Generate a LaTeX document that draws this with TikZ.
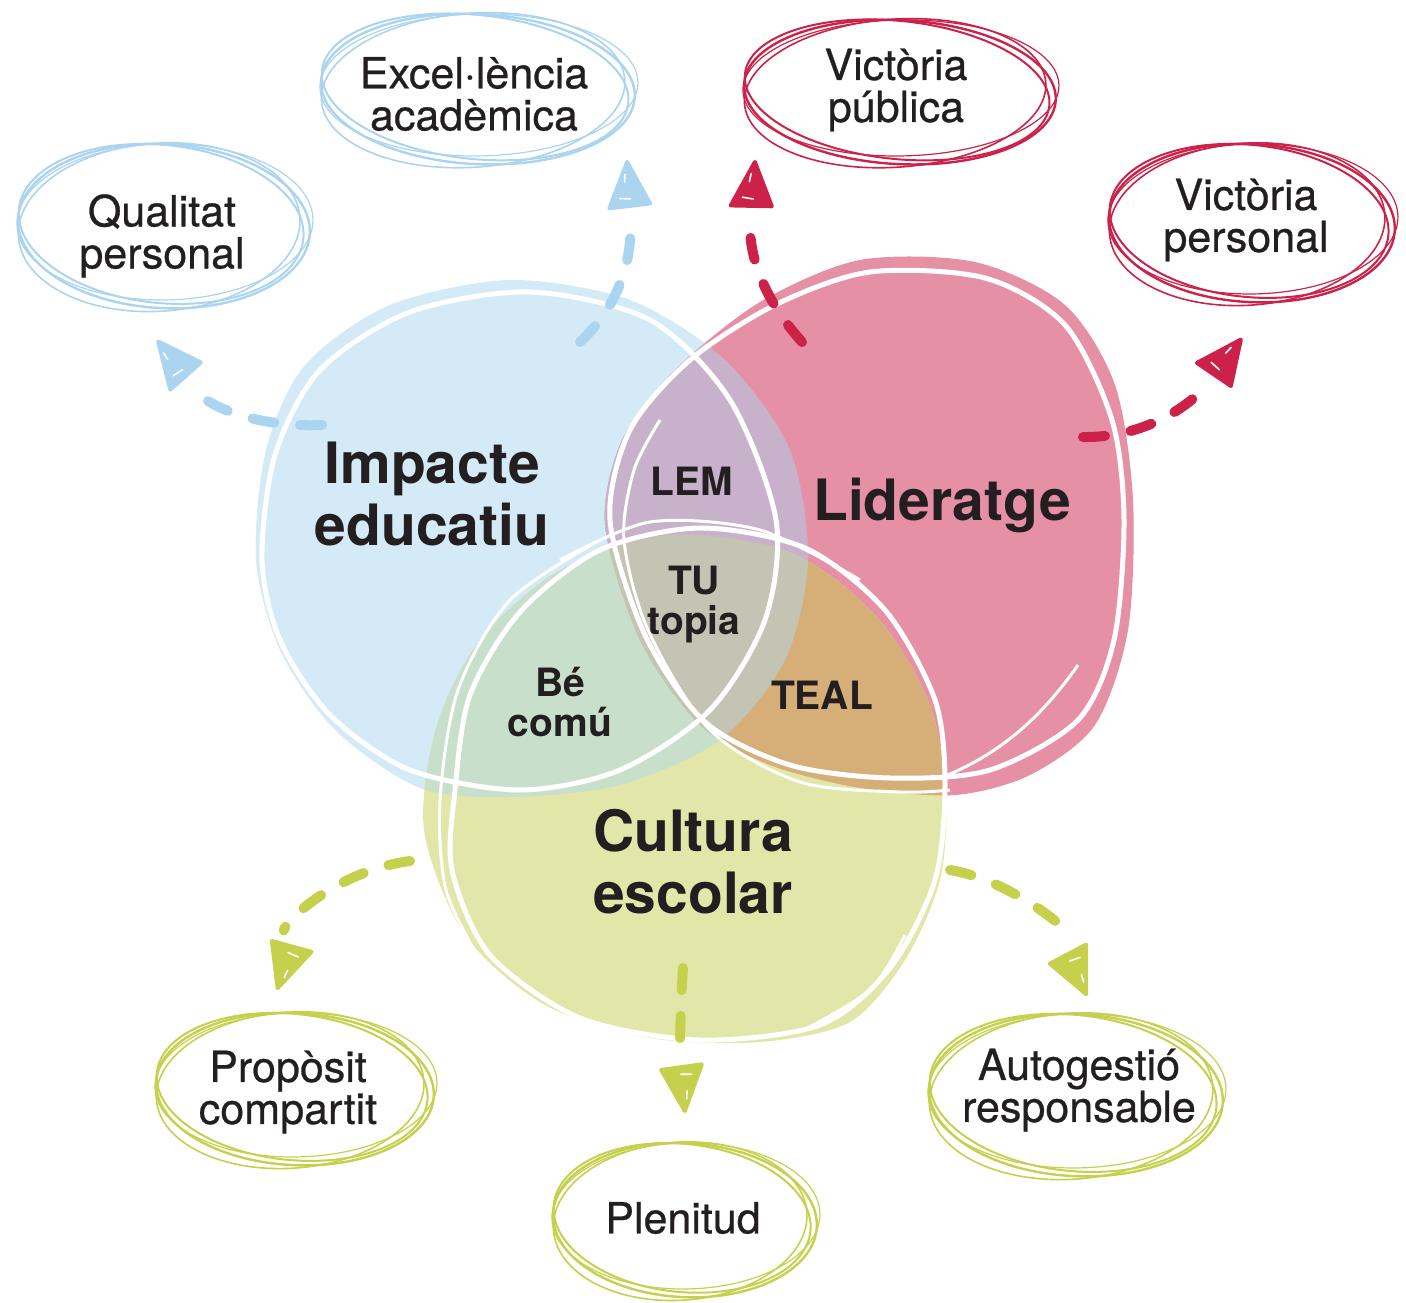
\documentclass[tikz,border=0pt]{standalone}
\usepackage{fontspec}
\setmainfont{TeX Gyre Heros}
\newfontfamily\leaffont[FakeBold=0.6]{TeX Gyre Heros}
\definecolor{bluefill}{HTML}{D5EAF7}
\definecolor{pinkfill}{HTML}{E690A5}
\definecolor{greenfill}{HTML}{E2E7A9}
\definecolor{lemfill}{HTML}{C8B2CB}
\definecolor{becomufill}{HTML}{C8DFCB}
\definecolor{tealfill}{HTML}{D6AE78}
\definecolor{tufill}{HTML}{C3C4B4}
\definecolor{bluestroke}{HTML}{AAD4EF}
\definecolor{redstroke}{HTML}{CC2249}
\definecolor{greenstroke}{HTML}{C5D14D}
\definecolor{textcol}{HTML}{231F20}
\newcommand{\scrib}[5]{%
  \begin{scope}[shift={(#1,#2)}]
    \draw[#5, line width=2.4pt, rotate=-3] (2,1) ellipse [x radius=#3, y radius=#4];
    \draw[#5, line width=1.6pt, rotate=4] (-3,2) ellipse [x radius=#3-5, y radius=#4+2];
    \draw[#5, line width=1.2pt, rotate=1] (3,-3) ellipse [x radius=#3+2, y radius=#4-4];
    \draw[#5, line width=2pt, rotate=-6] (-1,-1) ellipse [x radius=#3-3, y radius=#4-3];
  \end{scope}}
\newcommand{\tiphead}[3]{%
  \begin{scope}[shift={(#1)}, rotate=#2]
    \filldraw[#3, line width=4pt, line join=round] (-2,0) -- (-47,-21) -- (-45,20) -- cycle;
    \draw[white, line width=1.6pt, line cap=round] (-14,-3) -- (-22,-4);
    \draw[white, line width=1.6pt, line cap=round] (-38,-10) -- (-39,1);
  \end{scope}}
\def\bluepath{plot[smooth cycle] coordinates {(256,560) (266,450) (305,365) (390,305) (510,280) (630,300) (725,360) (790,450) (808,560) (785,660) (720,740) (620,785) (510,797) (420,788) (335,730) (280,650)}}
\def\pinkpath{plot[smooth cycle] coordinates {(605,525) (622,440) (675,370) (760,302) (860,260) (975,262) (1065,305) (1115,385) (1133,500) (1128,630) (1095,725) (1030,775) (955,795) (860,788) (770,765) (700,725) (640,640)}}
\def\greenpath{plot[smooth cycle] coordinates {(424,830) (437,725) (480,640) (560,570) (670,535) (790,552) (875,615) (928,700) (946,790) (940,880) (905,960) (850,1022) (760,1042) (650,1038) (545,1005) (465,935)}}
\begin{document}
\begin{tikzpicture}[x=1pt,y=-1pt,
  biglabel/.style={font=\fontsize{57}{62}\selectfont\bfseries, text=textcol, align=center, inner sep=0pt},
  midlabel/.style={font=\fontsize{39}{40}\selectfont\bfseries, text=textcol, align=center, inner sep=0pt},
  leaf/.style={font=\leaffont\fontsize{43}{42}\selectfont, text=textcol, align=center, inner sep=0pt},
  flow/.style={line width=10pt, line cap=round, dash pattern=on 22pt off 26pt, shorten >=60pt},
  outline/.style={draw=white, line width=5pt},
  outlinethin/.style={draw=white, line width=3pt}]
\useasboundingbox (0,0) rectangle (1406,1303);

% blob fills
\fill[bluefill] \bluepath;
\fill[pinkfill] \pinkpath;
\fill[greenfill] \greenpath;
\begin{scope}\clip \bluepath; \fill[lemfill] \pinkpath; \end{scope}
\begin{scope}\clip \bluepath; \fill[becomufill] \greenpath; \end{scope}
\begin{scope}\clip \pinkpath; \fill[tealfill] \greenpath; \end{scope}
\begin{scope}\clip \bluepath; \clip \pinkpath; \fill[tufill] \greenpath; \end{scope}

% white hand-drawn outlines
\draw[outline] plot[smooth cycle] coordinates {(262,560) (275,455) (320,370) (410,312) (530,292) (650,320) (730,400) (776,520) (765,620) (710,710) (620,770) (520,790) (410,770) (330,715) (280,640)};
\draw[outline] plot[smooth cycle] coordinates {(610,520) (630,430) (690,360) (775,305) (870,272) (985,278) (1065,325) (1112,420) (1124,520) (1114,640) (1078,720) (990,770) (890,778) (790,765) (705,722) (645,635)};
\draw[outlinethin] plot[smooth] coordinates {(660,420) (634,470) (624,540) (648,630) (710,730) (800,782) (900,792) (950,790)};
\draw[outlinethin] (945,776) .. controls (1010,750) and (1050,705) .. (1078,665);
\draw[outline] plot[smooth cycle] coordinates {(455,790) (470,695) (520,612) (600,550) (700,528) (805,548) (885,610) (935,700) (945,785) (935,880) (890,968) (820,1025) (700,1040) (580,1018) (490,955) (452,870)};
\draw[outlinethin] plot[smooth] coordinates {(600,540) (510,600) (458,690) (440,800) (446,890) (480,960)};
\draw[outlinethin] plot[smooth] coordinates {(560,560) (650,522) (760,530) (860,580)};
\draw[outlinethin] plot[smooth] coordinates {(905,935) (870,990) (800,1032)};

% main labels
\node[biglabel] (impacte) at (432,494) {Impacte\\educatiu};
\node[biglabel] (lideratge) at (942,505) {Lideratge};
\node[biglabel] (cultura) at (693,862) {Cultura\\escolar};
\node[midlabel] (lem) at (692,481) {LEM};
\node[midlabel] (tu) at (694,605) {TU\\topia};
\node[midlabel] (teal) at (822,695) {TEAL};
\node[midlabel] (becomu) at (560,702) {Bé\\comú};

% outcome labels
\node[leaf] (qualitat) at (162,236) {Qualitat\\personal};
\node[leaf] (excel) at (474,94) {Excel·lència\\acadèmica};
\node[leaf] (vpublica) at (896,90) {Victòria\\pública};
\node[leaf] (vpersonal) at (1246,220) {Victòria\\personal};
\node[leaf] (proposit) at (288,1092) {Propòsit\\compartit};
\node[leaf] (plenitud) at (683,1218) {Plenitud};
\node[leaf] (autogestio) at (1079,1090) {Autogestió\\responsable};

% scribbled ellipses
\scrib{162}{225}{146}{82}{bluestroke}
\scrib{476}{88}{157}{75}{bluestroke}
\scrib{898}{91}{156}{72}{redstroke}
\scrib{1250}{222}{143}{79}{redstroke}
\scrib{293}{1088}{139}{76}{greenstroke}
\scrib{683}{1219}{132}{77}{greenstroke}
\scrib{1074}{1094}{147}{81}{greenstroke}

% connectors
\coordinate (s1) at (322,425); \coordinate (t1) at (157,340);
\coordinate (s2) at (580,342); \coordinate (t2) at (627,160);
\coordinate (s3) at (802,342); \coordinate (t3) at (755,160);
\coordinate (s4) at (1083,437); \coordinate (t4) at (1242,338);
\coordinate (s5) at (410,861); \coordinate (t5) at (277,990);
\coordinate (s6) at (683,968); \coordinate (t6) at (685,1113);
\coordinate (s7) at (950,870); \coordinate (t7) at (1087,996);
\draw[flow, bluestroke] (s1) .. controls (255,428) and (205,405) .. (t1);
\draw[flow, bluestroke] (s2) .. controls (625,300) and (632,250) .. (t2);
\draw[flow, redstroke] (s3) .. controls (760,295) and (748,250) .. (t3);
\draw[flow, redstroke] (s4) .. controls (1150,438) and (1195,400) .. (t4);
\draw[flow, greenstroke] (s5) .. controls (340,870) and (285,920) .. (t5);
\draw[flow, greenstroke] (s6) .. controls (680,1010) and (680,1060) .. (t6);
\draw[flow, greenstroke] (s7) .. controls (1010,880) and (1070,930) .. (t7);
\tiphead{t1}{129}{bluestroke}
\tiphead{t2}{94}{bluestroke}
\tiphead{t3}{86}{redstroke}
\tiphead{t4}{53}{redstroke}
\tiphead{t5}{-108}{greenstroke}
\tiphead{t6}{-85}{greenstroke}
\tiphead{t7}{-65}{greenstroke}
\end{tikzpicture}
\end{document}
